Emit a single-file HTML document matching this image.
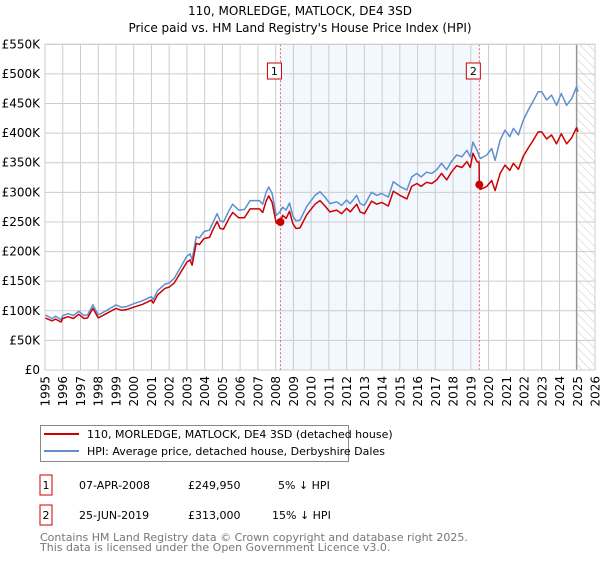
<!DOCTYPE html>
<html><head><meta charset="utf-8"><style>
body{margin:0;background:#fff;width:600px;height:560px;overflow:hidden;font-family:"DejaVu Sans","Liberation Sans",sans-serif}
svg text{font-family:"DejaVu Sans","Liberation Sans",sans-serif}
</style></head><body>
<svg id="c" width="600" height="560" xmlns="http://www.w3.org/2000/svg">
<defs><pattern id="hatch" width="6" height="6" patternUnits="userSpaceOnUse" patternTransform="rotate(-45)"><line x1="0" y1="0" x2="0" y2="6" stroke="#ccc" stroke-width="1"/></pattern></defs>
<text x="300" y="15" text-anchor="middle" font-size="12">110, MORLEDGE, MATLOCK, DE4 3SD</text>
<text x="300" y="32" text-anchor="middle" font-size="12">Price paid vs. HM Land Registry's House Price Index (HPI)</text>
<g id="plot"></g>
<g>
<rect x="40.5" y="425.5" width="308" height="36" fill="#fff" stroke="#888"/>
<line x1="44" y1="434" x2="79" y2="434" stroke="#cc0000" stroke-width="2"/>
<text x="87" y="438" font-size="11">110, MORLEDGE, MATLOCK, DE4 3SD (detached house)</text>
<line x1="44" y1="451" x2="79" y2="451" stroke="#5f8fd0" stroke-width="2"/>
<text x="87" y="455" font-size="11">HPI: Average price, detached house, Derbyshire Dales</text>
</g>
<g font-size="11">
<rect x="40" y="475" width="12" height="20" fill="#fff" stroke="#cc0000"/>
<text x="46" y="489" text-anchor="middle">1</text>
<text x="79" y="489">07-APR-2008</text>
<text x="188" y="489">£249,950</text>
<text x="278" y="489">5% ↓ HPI</text>
<rect x="40" y="505" width="12" height="20" fill="#fff" stroke="#cc0000"/>
<text x="46" y="519" text-anchor="middle">2</text>
<text x="79" y="519">25-JUN-2019</text>
<text x="188" y="519">£313,000</text>
<text x="272" y="519">15% ↓ HPI</text>
</g>
<text x="40" y="541" font-size="11" fill="#777">Contains HM Land Registry data © Crown copyright and database right 2025.</text>
<text x="40" y="551" font-size="11" fill="#777">This data is licensed under the Open Government Licence v3.0.</text>
</svg>
<script>
const hpiYears=[1995.0,1995.4,1995.6,1995.9,1996.0,1996.3,1996.6,1996.9,1997.2,1997.4,1997.7,1998.0,1998.5,1999.0,1999.3,1999.6,2000.0,2000.5,2001.0,2001.1,2001.35,2001.77,2002.0,2002.29,2002.67,2002.99,2003.18,2003.29,2003.52,2003.7,2003.97,2004.27,2004.45,2004.7,2004.87,2005.06,2005.39,2005.58,2005.92,2006.24,2006.56,2006.9,2007.09,2007.27,2007.46,2007.61,2007.8,2008.03,2008.21,2008.4,2008.59,2008.78,2008.97,2009.15,2009.37,2009.75,2010.22,2010.5,2010.78,2011.06,2011.44,2011.72,2012.0,2012.2,2012.57,2012.76,2013.0,2013.4,2013.7,2013.98,2014.35,2014.63,2015.0,2015.4,2015.67,2015.96,2016.2,2016.5,2016.8,2017.08,2017.35,2017.64,2017.9,2018.2,2018.5,2018.78,2018.97,2019.12,2019.35,2019.53,2019.9,2020.18,2020.37,2020.65,2020.93,2021.2,2021.4,2021.68,2021.96,2022.24,2022.5,2022.8,2023.0,2023.27,2023.55,2023.83,2024.1,2024.4,2024.68,2024.96,2025.05];
const hpiValues=[93,87,91,85,92,95,92,99,92,93,110,93,101,110,106,107,112,117,124,119,134,145,147,155,175,192,196,186,225,223,234,236,248,264,252,250,270,280,270,271,286,286,286,280,300,309,298,261,266,275,270,282,260,252,253,276,295,301,292,281,284,278,287,281,295,281,278,300,295,298,292,318,310,304,326,332,326,334,332,338,349,338,352,363,360,371,360,385,371,357,363,374,354,388,405,394,408,397,422,439,453,470,470,456,464,447,467,447,458,478,470];
const priceYears=[1995.0,1995.4,1995.6,1995.9,1996.0,1996.3,1996.6,1996.9,1997.2,1997.4,1997.7,1998.0,1998.5,1999.0,1999.3,1999.6,2000.0,2000.5,2001.0,2001.1,2001.35,2001.77,2002.0,2002.29,2002.67,2002.99,2003.18,2003.29,2003.52,2003.7,2003.97,2004.27,2004.45,2004.7,2004.87,2005.06,2005.39,2005.58,2005.92,2006.24,2006.56,2006.9,2007.09,2007.27,2007.46,2007.61,2007.8,2008.03,2008.21,2008.27,2008.4,2008.59,2008.78,2008.97,2009.15,2009.37,2009.75,2010.22,2010.5,2010.78,2011.06,2011.44,2011.72,2012.0,2012.2,2012.57,2012.76,2013.0,2013.4,2013.7,2013.98,2014.35,2014.63,2015.0,2015.4,2015.67,2015.96,2016.2,2016.5,2016.8,2017.08,2017.35,2017.64,2017.9,2018.2,2018.5,2018.78,2018.97,2019.12,2019.35,2019.47,2019.48,2019.53,2019.9,2020.18,2020.37,2020.65,2020.93,2021.2,2021.4,2021.68,2021.96,2022.24,2022.5,2022.8,2023.0,2023.27,2023.55,2023.83,2024.1,2024.4,2024.68,2024.96,2025.05];
const priceValues=[88,83,86,81,87,90,87,94,87,88,104,88,96,104,101,102,106,111,118,113,127,138,140,147,166,182,186,177,214,212,222,224,236,251,239,238,257,266,257,257,272,272,272,266,285,294,283,248,253,250,261,256,268,247,239,240,262,280,286,277,267,270,264,273,267,280,267,264,285,280,283,277,302,295,289,310,315,310,317,315,321,332,321,334,345,342,352,342,366,352,350,313,305,310,320,303,332,346,337,349,339,361,375,387,402,402,390,397,382,399,382,392,409,402];
const saleYears=[2008.27,2019.48];
const saleValues=[249.95,313];
const saleLabels=["1","2"];
const yTicks=[0,50,100,150,200,250,300,350,400,450,500,550];
const yTickLabels=["£0","£50K","£100K","£150K","£200K","£250K","£300K","£350K","£400K","£450K","£500K","£550K"];
const xTicks=[1995,1996,1997,1998,1999,2000,2001,2002,2003,2004,2005,2006,2007,2008,2009,2010,2011,2012,2013,2014,2015,2016,2017,2018,2019,2020,2021,2022,2023,2024,2025,2026];
const dataEnd=2024.95;

const X0=45,X1=595,Y0=370,Y1=44.3;
const xs=y=>X0+(y-1995)/(2026-1995)*(X1-X0);
const ys=v=>Y0-v/550*(Y0-Y1);
const NS="http://www.w3.org/2000/svg";
const g=document.getElementById('plot');
function mk(t,a,parent){const e=document.createElementNS(NS,t);for(const k in a)e.setAttribute(k,a[k]);(parent||g).appendChild(e);return e;}

let r=mk('rect',{x:xs(saleYears[0]),y:Y1,width:xs(saleYears[1])-xs(saleYears[0]),height:Y0-Y1,fill:'#eef3fd',opacity:0.7});


let h=mk('rect',{x:xs(dataEnd),y:Y1,width:X1-xs(dataEnd),height:Y0-Y1,fill:'url(#hatch)'});



yTicks.forEach((v,i)=>{
  let l=mk('line',{x1:X0,x2:X1,y1:ys(v),y2:ys(v),stroke:'#ccc','stroke-width':1});
  
  
  let t=mk('text',{x:X0-5,y:ys(v)+4,'text-anchor':'end','font-size':12});
  
  
  t.textContent=yTickLabels[i];
});
xTicks.forEach(yr=>{
  let l=mk('line',{x1:xs(yr),x2:xs(yr),y1:Y1,y2:Y0,stroke:'#ccc','stroke-width':1});
  
  
  let t=mk('text',{x:0,y:0,'text-anchor':'end','font-size':12,transform:`translate(${xs(yr)+4.5},${Y0+6}) rotate(-90)`});
  
  
  t.textContent=yr;
});
let el=mk('line',{x1:xs(dataEnd),x2:xs(dataEnd),y1:Y1,y2:Y0,stroke:'#888','stroke-width':1});



saleYears.forEach((yr,i)=>{
  let l=mk('line',{x1:xs(yr),x2:xs(yr),y1:Y1,y2:Y0,stroke:'#e06060','stroke-width':1,'stroke-dasharray':'2,2'});
  
  
});

function path(xa,va){return xa.map((yr,i)=>(i?'L':'M')+xs(yr).toFixed(1)+','+ys(va[i]).toFixed(1)).join('');}
let hp=mk('path',{d:path(hpiYears,hpiValues),fill:'none',stroke:'#5f8fd0','stroke-width':1.5,'stroke-linejoin':'round'});


let pp=mk('path',{d:path(priceYears,priceValues),fill:'none',stroke:'#cc0000','stroke-width':1.5,'stroke-linejoin':'round'});



saleYears.forEach((yr,i)=>{
  let d=mk('circle',{cx:xs(yr),cy:ys(saleValues[i]),r:4,fill:'#cc0000'});
  
  
  let b=mk('rect',{x:xs(yr)-13,y:63,width:14,height:16,fill:'#fff',stroke:'#cc0000'});
  
  
  let t=mk('text',{x:xs(yr)-6,y:75,'text-anchor':'middle','font-size':11});
  
  
  t.textContent=saleLabels[i];
});
let fr=mk('rect',{x:X0,y:Y1,width:X1-X0,height:Y0-Y1,fill:'none',stroke:'#ccc'});


</script>
</body></html>
